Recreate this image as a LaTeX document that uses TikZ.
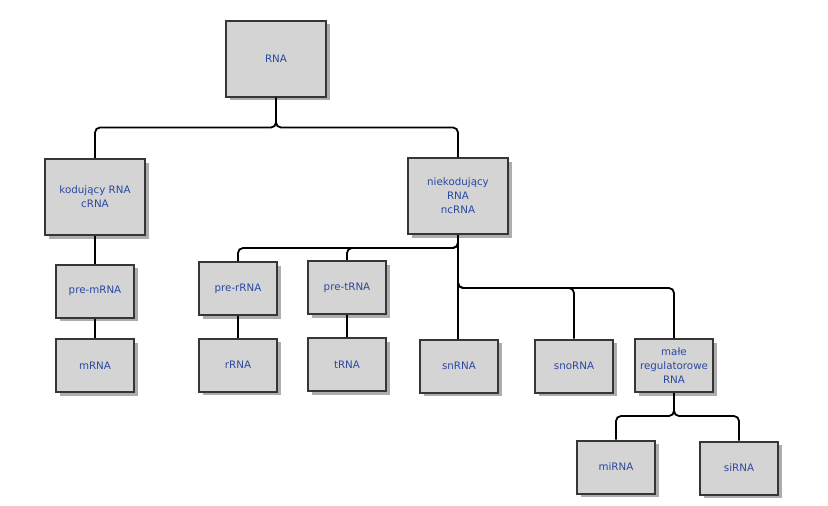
\documentclass[tikz,border=0pt]{standalone}
\usepackage{fontspec}
\setmainfont{DejaVu Sans}
\usepackage{xcolor}
\definecolor{boxFill}{HTML}{D4D4D4}
\definecolor{boxEdge}{HTML}{363636}
\definecolor{boxShade}{HTML}{ADADAD}
\definecolor{rnaBlue}{HTML}{2A48A0}
\usepackage{tikz}
\usetikzlibrary{shadows}

\begin{document}
\begin{tikzpicture}[x=1pt, y=-1pt,
    rnabox/.style={draw=boxEdge, line width=2pt, fill=boxFill, align=center,
      text=rnaBlue, font=\fontsize{10.3}{14}\selectfont, inner sep=0pt,
      drop shadow={shadow xshift=3.5pt, shadow yshift=-3.5pt, fill=boxShade, opacity=1}},
    big/.style={rnabox, minimum width=100pt, minimum height=76pt},
    small/.style={rnabox, minimum width=78pt, minimum height=53pt},
    conn/.style={line width=1.8pt, rounded corners=5pt}]
  \useasboundingbox (0,0) rectangle (828,506);
  % ------- top levels -------
  \node[big] (rna) at (276,58.5) {RNA};
  \node[big] (kod) at (95,197) {kodujący RNA\\cRNA};
  \node[big] (nie) at (458,196) {niekodujący\\RNA\\ncRNA};
  % ------- coding branch -------
  \node[small] (premrna) at (95,291) {pre-mRNA};
  \node[small] (mrna) at (95,365.5) {mRNA};
  % ------- non-coding branch -------
  \node[small] (prerrna) at (238,288.5) {pre-rRNA};
  \node[small] (rrna) at (238,365) {rRNA};
  \node[small] (pretrna) at (347,287.5) {pre-tRNA};
  \node[small] (trna) at (347,364.5) {tRNA};
  \node[small] (snrna) at (459,366) {snRNA};
  \node[small] (snorna) at (574,366) {snoRNA};
  \node[small] (male) at (674,365.5) {małe\\regulatorowe\\RNA};
  % ------- small regulatory -------
  \node[small] (mirna) at (616,467) {miRNA};
  \node[small] (sirna) at (739,468) {siRNA};

  % connectors
  \draw[conn] (rna.south) -- ++(0,30) -| (kod.north);
  \draw[conn] (rna.south) -- ++(0,30) -| (nie.north);
  \draw[conn] (kod.south) -- (premrna.north);
  \draw[conn] (premrna.south) -- (mrna.north);
  \draw[conn] (nie.south) -- ++(0,13) -| (prerrna.north);
  \draw[conn] (nie.south) -- ++(0,13) -| (pretrna.north);
  \draw[conn] (prerrna.south) -- (rrna.north);
  \draw[conn] (pretrna.south) -- (trna.north);
  \draw[conn] (nie.south) -- (nie.south |- snrna.north);
  \draw[conn] (nie.south) -- ++(0,53) -| (snorna.north);
  \draw[conn] (nie.south) -- ++(0,53) -| (male.north);
  \draw[conn] (male.south) -- ++(0,23) -| (mirna.north);
  \draw[conn] (male.south) -- ++(0,23) -| (sirna.north);
\end{tikzpicture}
\end{document}
